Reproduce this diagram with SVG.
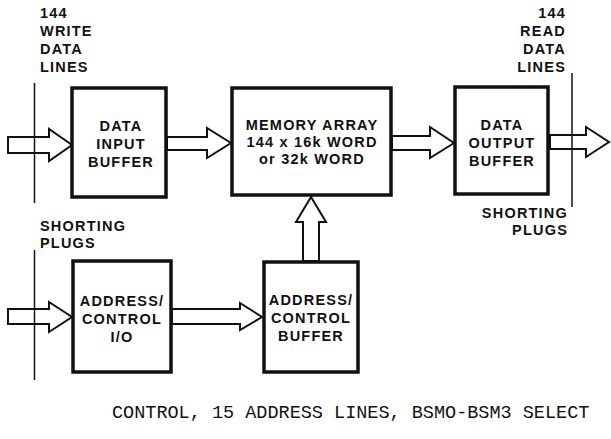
<svg xmlns="http://www.w3.org/2000/svg" width="611" height="439" viewBox="0 0 611 439">
<style>
.box{fill:#fff;stroke:#111;stroke-width:3.5}
.arr{fill:#fff;stroke:#111;stroke-width:2;stroke-linejoin:miter}
.vl{stroke:#111;stroke-width:1.5;fill:none}
.t{font-family:"Liberation Sans",Arial,sans-serif;font-weight:bold;font-size:14.5px;letter-spacing:1.2px;fill:#111}
.c{text-anchor:middle}
.e{text-anchor:end}
.m{font-family:"Liberation Mono","Courier New",monospace;font-size:18.5px;fill:#111}
</style>
<rect width="611" height="439" fill="#fff"/>
<g id="connectors">
<path class="arr" d="M8,137 L49,137 L49,129 L72,145 L49,161 L49,153 L8,153 Z"/>
<path class="arr" d="M167,137 L207,137 L207,128 L231,143 L207,158 L207,150 L167,150 Z"/>
<path class="arr" d="M392,136 L430,136 L430,127 L454,143 L430,158 L430,150 L392,150 Z"/>
<path class="arr" d="M550,135 L586,135 L586,127 L609,142 L586,157 L586,149 L550,149 Z"/>
<path class="arr" d="M8,309 L49,309 L49,302 L72,317 L49,332 L49,324 L8,324 Z"/>
<path class="arr" d="M172,309 L240,309 L240,303 L262,317 L240,330 L240,324 L172,324 Z"/>
<path class="arr" d="M303,261 L303,222 L296,222 L311,197 L326,222 L319,222 L319,261 Z"/>
<line class="vl" x1="34.5" y1="83" x2="34.5" y2="203"/>
<line class="vl" x1="34.5" y1="250" x2="34.5" y2="380"/>
<line class="vl" x1="572" y1="73" x2="572" y2="207"/>
</g>
<g id="labels">
<text class="t" x="40" y="18">144</text>
<text class="t" x="40" y="36">WRITE</text>
<text class="t" x="40" y="54">DATA</text>
<text class="t" x="40" y="72">LINES</text>
<text class="t e" x="566" y="18">144</text>
<text class="t e" x="566" y="36">READ</text>
<text class="t e" x="566" y="54">DATA</text>
<text class="t e" x="566" y="72">LINES</text>
<text class="t" x="40" y="231">SHORTING</text>
<text class="t" x="40" y="248">PLUGS</text>
<text class="t e" x="568" y="218">SHORTING</text>
<text class="t e" x="568" y="235">PLUGS</text>
<text class="m" x="112" y="418">CONTROL, 15 ADDRESS LINES, BSMO-BSM3 SELECT</text>
</g>
<g id="data-input-buffer">
<rect class="box" x="72" y="88" width="94" height="109"/>
<text class="t c" x="121" y="131">DATA</text>
<text class="t c" x="121" y="149">INPUT</text>
<text class="t c" x="121" y="167">BUFFER</text>
</g>
<g id="memory-array">
<rect class="box" x="232" y="88" width="159" height="107"/>
<text class="t c" x="312" y="130">MEMORY ARRAY</text>
<text class="t c" x="312" y="147">144 x 16k WORD</text>
<text class="t c" x="312" y="164">or 32k WORD</text>
</g>
<g id="data-output-buffer">
<rect class="box" x="455" y="87" width="93" height="107"/>
<text class="t c" x="502" y="130">DATA</text>
<text class="t c" x="502" y="148">OUTPUT</text>
<text class="t c" x="502" y="166">BUFFER</text>
</g>
<g id="address-control-io">
<rect class="box" x="73" y="261" width="98" height="111"/>
<text class="t c" x="122" y="306">ADDRESS/</text>
<text class="t c" x="122" y="324">CONTROL</text>
<text class="t c" x="122" y="342">I/O</text>
</g>
<g id="address-control-buffer">
<rect class="box" x="264" y="262" width="94" height="110"/>
<text class="t c" x="311" y="305">ADDRESS/</text>
<text class="t c" x="311" y="323">CONTROL</text>
<text class="t c" x="311" y="341">BUFFER</text>
</g>
</svg>
